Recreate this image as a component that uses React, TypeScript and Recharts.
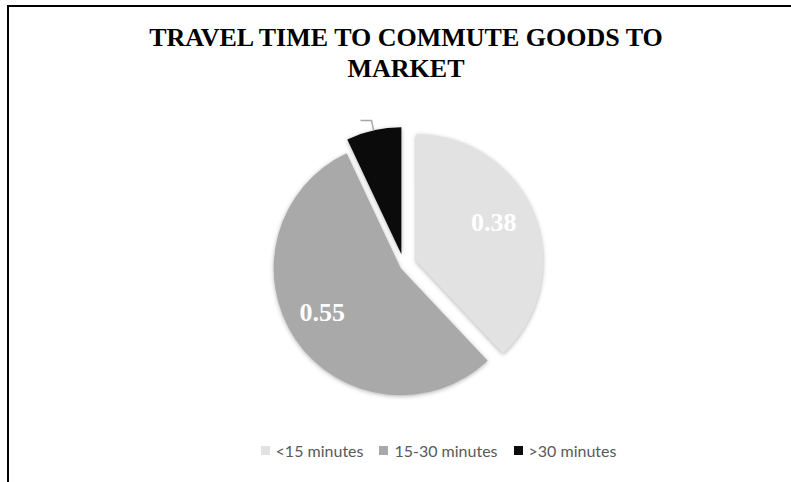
import React from "react";
import { PieChart, Pie, Cell, Sector, Legend } from "recharts";

const categories = ["<15 minutes", "15-30 minutes", ">30 minutes"];
const shares = [0.38, 0.55, 0.07];
const shownLabels = ["0.38", "0.55", ""];

const COLORS = ["#e2e2e2", "#a9a9a9", "#0b0b0b"];
// how far each slice is pulled out of the pie
const EXPLODE = [13, 4, 12];

const data = categories.map((name, i) => ({
  name,
  value: shares[i],
  label: shownLabels[i],
  explode: EXPLODE[i],
}));

const RAD = Math.PI / 180;

const shift = (cx: number, cy: number, angle: number, r: number) => ({
  x: cx + Math.cos(-angle * RAD) * r,
  y: cy + Math.sin(-angle * RAD) * r,
});

const ExplodedSlice = (props: any) => {
  const { cx, cy, midAngle, payload } = props;
  const p = shift(cx, cy, midAngle, payload.explode);
  return (
    <Sector
      {...props}
      cx={p.x}
      cy={p.y}
      stroke="none"
      style={{ filter: "drop-shadow(0px 1px 2px rgba(0,0,0,0.3))" }}
    />
  );
};

const SliceLabel = (props: any) => {
  const { cx, cy, midAngle, outerRadius, payload } = props;
  const c = shift(cx, cy, midAngle, payload.explode);
  if (!payload.label) {
    // leader line only, for the small slice
    const a = shift(c.x, c.y, midAngle, outerRadius);
    const b = shift(c.x, c.y, midAngle, outerRadius + 10);
    return (
      <polyline
        points={`${a.x},${a.y} ${b.x},${b.y} ${b.x - 11},${b.y}`}
        fill="none"
        stroke="#a6a6a6"
        strokeWidth={1.5}
      />
    );
  }
  const t = shift(c.x, c.y, midAngle, outerRadius * 0.7);
  return (
    <text
      x={t.x}
      y={t.y}
      dx={-5}
      dy={-6}
      fill="#ffffff"
      textAnchor="middle"
      dominantBaseline="central"
      fontFamily="'Liberation Serif', serif"
      fontWeight="bold"
      fontSize={26}
    >
      {payload.label}
    </text>
  );
};

const LegendRow = () => (
  <div
    style={{
      display: "flex",
      justifyContent: "center",
      gap: 16,
      fontFamily: "Lato, 'Open Sans', sans-serif",
      fontSize: 16,
      color: "#595959",
    }}
  >
    {categories.map((c, i) => (
      <div key={c} style={{ display: "flex", alignItems: "center" }}>
        <span
          style={{
            display: "inline-block",
            width: 9,
            height: 9,
            background: COLORS[i],
            marginRight: 6,
          }}
        />
        {c}
      </div>
    ))}
  </div>
);

export default function App() {
  return (
    <div
      style={{
        position: "absolute",
        left: 0,
        top: 0,
        width: 791,
        height: 482,
        overflow: "hidden",
        background: "#ffffff",
      }}
    >
      <div
        style={{
          position: "absolute",
          left: 7,
          top: 5,
          width: 820,
          height: 520,
          border: "2px solid #000",
        }}
      />
      <div
        style={{
          position: "absolute",
          left: 0,
          top: 22,
          width: 812,
          textAlign: "center",
          fontFamily: "'Liberation Serif', serif",
          fontWeight: "bold",
          fontSize: 26,
          lineHeight: "31px",
          color: "#000",
        }}
      >
        TRAVEL TIME TO COMMUTE GOODS TO
        <br />
        MARKET
      </div>
      <div style={{ position: "absolute", left: 0, top: 0 }}>
        <PieChart width={791} height={482}>
          <Pie
            data={data}
            dataKey="value"
            nameKey="name"
            cx={399}
            cy={261}
            outerRadius={127}
            startAngle={90}
            endAngle={-270}
            shape={ExplodedSlice}
            label={SliceLabel}
            labelLine={false}
            isAnimationActive={false}
          >
            {data.map((d, i) => (
              <Cell key={d.name} fill={COLORS[i]} />
            ))}
          </Pie>
          <Legend
            content={LegendRow}
            wrapperStyle={{ position: "absolute", left: 0, top: 441, width: 877 }}
          />
        </PieChart>
      </div>
    </div>
  );
}
